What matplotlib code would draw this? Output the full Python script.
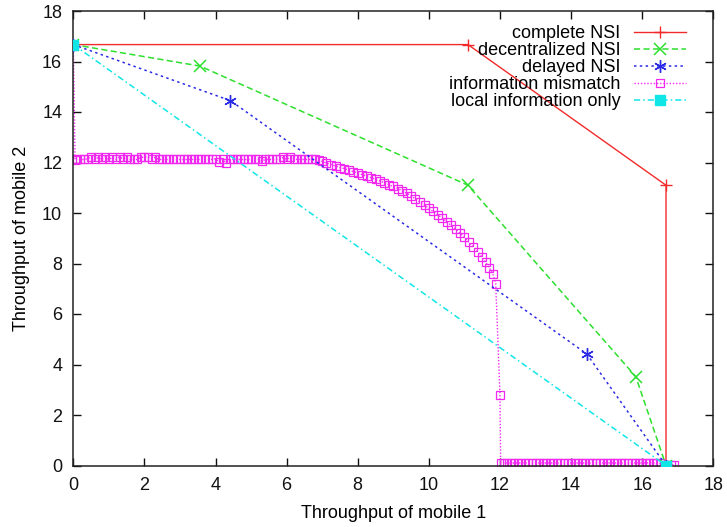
import matplotlib
matplotlib.use("Agg")
import matplotlib.pyplot as plt

plt.rcParams['font.family'] = ['Liberation Sans', 'DejaVu Sans']

# ---- data ----
complete_x = [0.0, 11.1, 16.67, 16.67]
complete_y = [16.67, 16.67, 11.1, 0.0]

decentral_x = [0.0, 3.56, 11.1, 15.82, 16.67]
decentral_y = [16.67, 15.82, 11.1, 3.52, 0.0]

delayed_x = [0.0, 4.42, 14.44, 16.67]
delayed_y = [16.67, 14.45, 4.42, 0.0]

local_x = [0.0, 16.67]
local_y = [16.67, 0.0]

mism_x = [0.0, 0.05,
          0.1, 0.2, 0.3, 0.4, 0.5, 0.6, 0.7, 0.8, 0.9, 1.0,
          1.1, 1.2, 1.3, 1.4, 1.5, 1.6, 1.7, 1.8, 1.9, 2.0,
          2.1, 2.2, 2.3, 2.4, 2.5, 2.6, 2.7, 2.8, 2.9, 3.0,
          3.1, 3.2, 3.3, 3.4, 3.5, 3.6, 3.7, 3.8, 3.9, 4.0,
          4.1, 4.2, 4.3, 4.4, 4.5, 4.6, 4.7, 4.8, 4.9, 5.0,
          5.1, 5.2, 5.3, 5.4, 5.5, 5.6, 5.7, 5.8, 5.9, 6.0,
          6.1, 6.2, 6.3, 6.4, 6.5, 6.6, 6.7, 6.8, 6.9,
          7.0, 7.12, 7.25, 7.38, 7.5, 7.62, 7.75, 7.88, 8.0, 8.12,
          8.25, 8.38, 8.5, 8.62, 8.75, 8.88, 9.0, 9.12, 9.25, 9.38,
          9.5, 9.62, 9.75, 9.88, 10.0, 10.12, 10.25, 10.38, 10.5, 10.62,
          10.75, 10.88, 11.0, 11.12, 11.25, 11.38, 11.5, 11.6, 11.7, 11.8,
          11.88,
          12.0, 12.02,
          12.1, 12.2, 12.3, 12.4, 12.5, 12.6, 12.7, 12.8, 12.9, 13.0,
          13.1, 13.2, 13.3, 13.4, 13.5, 13.6, 13.7, 13.8, 13.9, 14.0,
          14.1, 14.2, 14.3, 14.4, 14.5, 14.6, 14.7, 14.8, 14.9, 15.0,
          15.1, 15.2, 15.3, 15.4, 15.5, 15.6, 15.7, 15.8, 15.9, 16.0,
          16.1, 16.2, 16.3, 16.4, 16.5,
          16.6, 16.7, 16.8, 16.9]
mism_y = [16.62, 12.1,
          12.12, 12.12, 12.12, 12.15, 12.22, 12.12, 12.2, 12.12, 12.22, 12.12,
          12.2, 12.12, 12.22, 12.15, 12.2, 12.12, 12.12, 12.12, 12.2, 12.22,
          12.2, 12.15, 12.2, 12.12, 12.12, 12.12, 12.12, 12.12, 12.12, 12.12,
          12.12, 12.12, 12.12, 12.12, 12.12, 12.12, 12.12, 12.12, 12.12, 12.15,
          12.02, 12.12, 12.0, 12.12, 12.12, 12.12, 12.12, 12.12, 12.12, 12.12,
          12.12, 12.12, 12.05, 12.12, 12.12, 12.12, 12.12, 12.12, 12.2, 12.12,
          12.22, 12.15, 12.12, 12.12, 12.12, 12.12, 12.12, 12.12, 12.1,
          12.04, 11.98, 11.92, 11.86, 11.8, 11.76, 11.7, 11.64, 11.58, 11.52,
          11.46, 11.4, 11.34, 11.27, 11.2, 11.12, 11.05, 10.97, 10.88, 10.78,
          10.68, 10.56, 10.44, 10.32, 10.18, 10.06, 9.93, 9.8, 9.66, 9.52,
          9.36, 9.2, 9.03, 8.85, 8.66, 8.46, 8.24, 8.04, 7.83, 7.58,
          7.2,
          2.8, 0.1,
          0.1, 0.1, 0.1, 0.1, 0.1, 0.1, 0.1, 0.1, 0.1, 0.1,
          0.1, 0.1, 0.1, 0.1, 0.1, 0.1, 0.1, 0.1, 0.1, 0.1,
          0.1, 0.1, 0.1, 0.1, 0.1, 0.1, 0.1, 0.1, 0.1, 0.1,
          0.1, 0.1, 0.1, 0.1, 0.1, 0.1, 0.1, 0.1, 0.1, 0.1,
          0.1, 0.1, 0.1, 0.1, 0.08,
          0.03, 0.03, 0.03, 0.03]

xticks = [0, 2, 4, 6, 8, 10, 12, 14, 16, 18]
yticks = [0, 2, 4, 6, 8, 10, 12, 14, 16, 18]

# ---- figure ----
fig = plt.figure(figsize=(7.27, 5.27), dpi=100)
ax = fig.add_axes([73.3 / 727, 1 - 465.5 / 527, 640 / 727, 454.5 / 527])

RED = '#f22a2a'
GREEN = '#2ee02e'
BLUE = '#2a2ae6'
MAG = '#f028f0'
CYAN = '#10e6e6'

ax.plot(complete_x, complete_y, color=RED, lw=1.0, marker='+', ms=9, mew=1.0,
        label='complete NSI', zorder=3)
ax.plot(decentral_x, decentral_y, color=GREEN, lw=1.1, ls=(0, (4.0, 2.2)),
        marker='x', ms=8, mew=1.1, label='decentralized NSI', zorder=3)
ax.plot(delayed_x, delayed_y, color=BLUE, lw=1.1, ls=(0, (1.6, 2.2)),
        marker=(6, 2, 0), ms=9, mew=1.0, label='delayed NSI', zorder=3)
ax.plot(mism_x, mism_y, color=MAG, lw=1.0, ls=(0, (1.0, 1.3)),
        marker='s', ms=6, mfc='none', mec=MAG, mew=0.9,
        label='information mismatch', zorder=2)
ax.plot(local_x, local_y, color=CYAN, lw=1.1, ls=(0, (4.0, 2.0, 1.0, 2.0)),
        marker='s', ms=7, mfc=CYAN, mec=CYAN, label='local information only',
        zorder=4)

ax.set_xlim(0, 18)
ax.set_ylim(0, 18)
ax.set_xticks(xticks)
ax.set_yticks(yticks)
ax.tick_params(direction='in', length=6, width=1, top=True, right=True,
               labelsize=13, colors='#111111')
ax.tick_params(axis='x', pad=8)
ax.tick_params(axis='y', pad=8)
for s in ax.spines.values():
    s.set_linewidth(1.1)
    s.set_color('#222222')

ax.set_xlabel('Throughput of mobile 1', fontsize=13, labelpad=8)
ax.set_ylabel('Throughput of mobile 2', fontsize=13, labelpad=9)

leg = ax.legend(loc='upper right', frameon=False, markerfirst=False,
                fontsize=13, handlelength=2.9, handletextpad=0.75,
                labelspacing=0.0, borderaxespad=0.4,
                bbox_to_anchor=(0.98, 1.0))

fig.savefig('out.png', dpi=100)
